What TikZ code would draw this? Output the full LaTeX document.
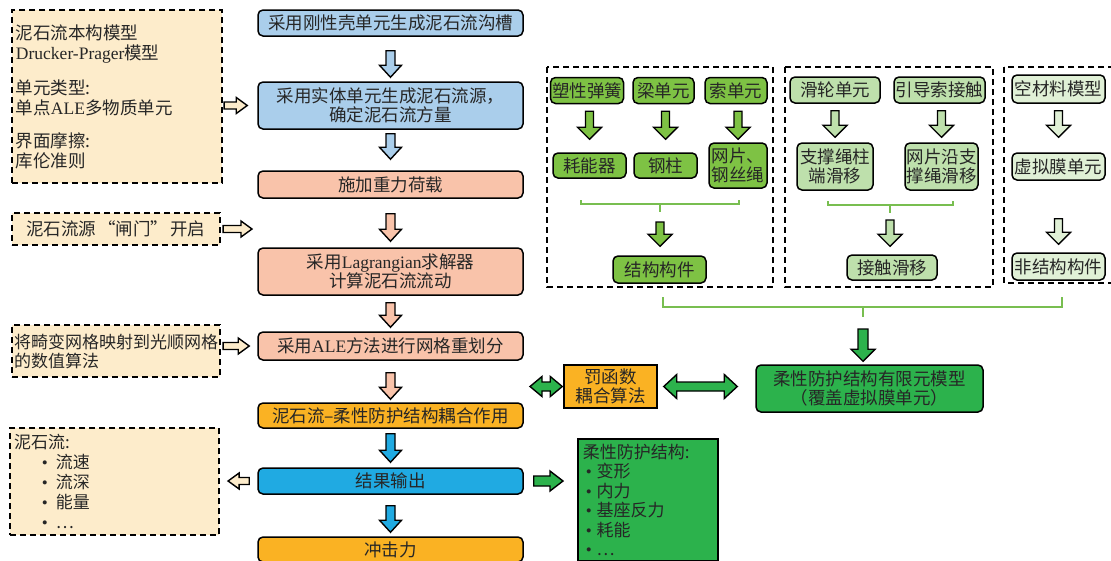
\documentclass[tikz,border=0pt]{standalone}
\usepackage{fontspec}
\setmainfont{Noto Sans CJK SC}
\newfontfamily\lat{Liberation Serif}
\usetikzlibrary{calc}

\definecolor{lblue}{RGB}{170,206,235}
\definecolor{salmon}{RGB}{249,195,170}
\definecolor{gold}{RGB}{250,178,35}
\definecolor{cyanb}{RGB}{32,170,226}
\definecolor{cream}{RGB}{253,236,203}
\definecolor{grn}{RGB}{126,194,68}
\definecolor{lgrn}{RGB}{190,224,172}
\definecolor{pgrn}{RGB}{224,240,214}
\definecolor{dgrn}{RGB}{44,178,76}
\definecolor{bgrn}{RGB}{120,190,80}

% block arrow sizes
\newcommand{\arrshaft}{4.5pt}
\newcommand{\arrhead}{11pt}
\newcommand{\arrlen}{12pt}
\newcommand{\bul}{{\lat\textbullet}}

% block arrow: fill, from, to, gap at start, gap at end
\newcommand{\blockarrow}[5]{%
  \filldraw[fill=#1, arrline]
    let \p1=($(#2)!#4!(#3)$), \p2=($(#3)!#5!(#2)$),
        \n1={atan2(\y2-\y1,\x2-\x1)} in
    ($(\p1)+(\n1+90:\arrshaft)$)
    -- ($(\p2)+(\n1+180:\arrlen)+(\n1+90:\arrshaft)$)
    -- ($(\p2)+(\n1+180:\arrlen)+(\n1+90:\arrhead)$)
    -- (\p2)
    -- ($(\p2)+(\n1+180:\arrlen)+(\n1-90:\arrhead)$)
    -- ($(\p2)+(\n1+180:\arrlen)+(\n1-90:\arrshaft)$)
    -- ($(\p1)+(\n1-90:\arrshaft)$) -- cycle;}

% double block arrow
\newcommand{\dblarrow}[5]{%
  \filldraw[fill=#1, arrline]
    let \p1=($(#2)!#4!(#3)$), \p2=($(#3)!#5!(#2)$),
        \n1={atan2(\y2-\y1,\x2-\x1)} in
    (\p1)
    -- ($(\p1)+(\n1:\arrlen)+(\n1+90:\arrhead)$)
    -- ($(\p1)+(\n1:\arrlen)+(\n1+90:\arrshaft)$)
    -- ($(\p2)+(\n1+180:\arrlen)+(\n1+90:\arrshaft)$)
    -- ($(\p2)+(\n1+180:\arrlen)+(\n1+90:\arrhead)$)
    -- (\p2)
    -- ($(\p2)+(\n1+180:\arrlen)+(\n1-90:\arrhead)$)
    -- ($(\p2)+(\n1+180:\arrlen)+(\n1-90:\arrshaft)$)
    -- ($(\p1)+(\n1:\arrlen)+(\n1-90:\arrshaft)$)
    -- ($(\p1)+(\n1:\arrlen)+(\n1-90:\arrhead)$) -- cycle;}

\tikzset{
  box/.style={draw=black, line width=1.5pt, rounded corners=5pt, align=center,
    inner sep=1pt, text=black!85},
  mainbox/.style={box, minimum width=265pt},
  gbox/.style={box, fill=grn, inner ysep=2pt},
  lgbox/.style={box, fill=lgrn, inner ysep=2pt},
  pgbox/.style={box, fill=pgrn, inner ysep=2pt},
  note/.style={draw=black, line width=2.2pt, dash pattern=on 6pt off 4pt, fill=cream,
    align=left, inner xsep=4pt, inner ysep=3pt, text=black!85},
  frame/.style={draw=black, line width=2.2pt, dash pattern=on 6pt off 4pt},
  brace/.style={draw=bgrn, line width=1.5pt},
  arrline/.style={draw=black, line width=1.4pt},
}

\begin{document}
\begin{tikzpicture}[x=1pt, y=-1pt, font=\fontsize{17.5}{19}\selectfont]

\useasboundingbox (0,0) rectangle (1111,560);

% Main column
\node[mainbox, fill=lblue, minimum height=26pt] (trench) at (390.5,23) {采用刚性壳单元生成泥石流沟槽};
\node[mainbox, fill=lblue, minimum height=47pt] (source) at (390.5,105.5) {采用实体单元生成泥石流源，\\确定泥石流方量};
\node[mainbox, fill=salmon, minimum height=27pt] (gravity) at (390.5,184.5) {施加重力荷载};
\node[mainbox, fill=salmon, minimum height=47pt] (solver) at (390.5,271.5) {采用{\lat Lagrangian}求解器\\计算泥石流流动};
\node[mainbox, fill=salmon, minimum height=28pt] (remesh) at (390.5,346) {采用{\lat ALE}方法进行网格重划分};
\node[mainbox, fill=gold, minimum height=25pt] (couple) at (390.5,415.5) {泥石流–柔性防护结构耦合作用};
\node[mainbox, fill=cyanb, minimum height=26pt] (result) at (390.5,481) {结果输出};
\node[mainbox, fill=gold, minimum height=25pt] (impact) at (390.5,549.5) {冲击力};

% Left notes
\node[note, text width=202pt, minimum height=173pt, font=\fontsize{17.5}{20}\selectfont] (model) at (117,96.5)
  {泥石流本构模型\\{\lat Drucker-Prager}模型\\[15pt]单元类型:\\单点{\lat ALE}多物质单元\\[13pt]界面摩擦:\\库伦准则};
\node[note, align=center, minimum width=208pt, minimum height=32pt] (gate) at (116,229)
  {泥石流源\hspace{2pt}“闸门”\hspace{2pt}开启};
\node[note, text width=204pt, inner xsep=2pt, minimum height=52pt, font=\fontsize{17}{19}\selectfont] (grid) at (116,351)
  {将畸变网格映射到光顺网格\\的数值算法};
\node[note, text width=201pt, minimum height=107pt, font=\fontsize{17}{20}\selectfont] (debris) at (114.5,481.5)
  {泥石流:\\\hspace*{28pt}\bul\hspace{8pt}流速\\\hspace*{28pt}\bul\hspace{8pt}流深\\\hspace*{28pt}\bul\hspace{8pt}能量\\\hspace*{28pt}\bul\hspace{8pt}…};

\coordinate (gatein) at (252,229);
\coordinate (couplein) at (530,386.5);

% Panels
\draw[frame] (547,67) rectangle (773,287);
\draw[frame] (785,67) rectangle (993,287);
\draw[frame] (1004,67) rectangle (1118,283);

\node[gbox, minimum width=73pt, minimum height=26pt] (spring) at (587,90.5) {塑性弹簧};
\node[gbox, minimum width=61pt, minimum height=26pt] (beam) at (663.5,90.5) {梁单元};
\node[gbox, minimum width=62pt, minimum height=26pt] (cable) at (736,90.5) {索单元};
\node[gbox, minimum width=73pt, minimum height=25pt] (damper) at (589.5,165.5) {耗能器};
\node[gbox, minimum width=63pt, minimum height=25pt] (column) at (665.5,165.5) {钢柱};
\node[gbox, minimum width=58pt, minimum height=45pt] (mesh) at (738,165.5) {网片、\\钢丝绳};
\node[gbox, minimum width=93pt, minimum height=27pt] (struct) at (659.5,269.5) {结构构件};

\node[lgbox, minimum width=90pt, minimum height=26pt] (pulley) at (835,90) {滑轮单元};
\node[lgbox, minimum width=91pt, minimum height=26pt] (guide) at (939.5,90) {引导索接触};
\node[lgbox, minimum width=76pt, minimum height=47pt] (slipend) at (835,166.5) {支撑绳柱\\端滑移};
\node[lgbox, minimum width=73pt, minimum height=47pt] (slipmesh) at (941.5,166.5) {网片沿支\\撑绳滑移};
\node[lgbox, minimum width=90pt, minimum height=25pt] (contact) at (892,267.5) {接触滑移};

\node[pgbox, minimum width=93pt, minimum height=28pt] (void) at (1058.5,89) {空材料模型};
\node[pgbox, minimum width=93pt, minimum height=27pt] (membrane) at (1058.5,166.5) {虚拟膜单元};
\node[pgbox, minimum width=93pt, minimum height=27pt] (nonstruct) at (1058.5,266.5) {非结构构件};

% Braces
\draw[brace] (581,200) -- (581,204) -- (739,204) -- (739,200) (660,204) -- (660,212);
\draw[brace] (828,201) -- (828,205) -- (953,205) -- (953,201) (890,205) -- (890,213);
\draw[brace] (663,297) -- (663,307) -- (1062,307) -- (1062,297) (863,307) -- (863,317);
\coordinate (brone) at (660,212);
\coordinate (brtwo) at (890,213);
\coordinate (brall) at (863,317);

% Model and outputs
\node[draw=black, line width=1.5pt, fill=gold, minimum width=93pt, minimum height=43pt, align=center, inner sep=1pt, text=black!85] (penalty) at (610.5,386.5) {罚函数\\耦合算法};
\node[box, fill=dgrn, minimum width=227pt, minimum height=47pt] (fem) at (869.5,388.5) {柔性防护结构有限元模型\\（覆盖虚拟膜单元）};
\node[draw=black, line width=1.5pt, fill=dgrn, anchor=north west, text width=130pt, inner xsep=5pt, inner ysep=5pt, align=left, text=black!85, font=\fontsize{17}{19.5}\selectfont] (fpsout) at (577,438)
  {柔性防护结构:\\\hspace*{3pt}\bul\hspace{5pt}变形\\\hspace*{3pt}\bul\hspace{5pt}内力\\\hspace*{3pt}\bul\hspace{5pt}基座反力\\\hspace*{3pt}\bul\hspace{5pt}耗能\\\hspace*{3pt}\bul\hspace{5pt}…};

% Main column arrows
\blockarrow{lblue}{trench.south}{source.north}{14pt}{4pt}
\blockarrow{lblue}{source.south}{gravity.north}{4pt}{11pt}
\blockarrow{salmon}{gravity.south}{solver.north}{15pt}{6pt}
\blockarrow{salmon}{solver.south}{remesh.north}{7pt}{4pt}
\blockarrow{salmon}{remesh.south}{couple.north}{12pt}{3pt}
\blockarrow{cyanb}{couple.south}{result.north}{5pt}{5pt}
\blockarrow{cyanb}{result.south}{impact.north}{11pt}{4pt}

% Side arrows
\renewcommand{\arrshaft}{3.5pt}
\renewcommand{\arrhead}{8pt}
\renewcommand{\arrlen}{11pt}
\blockarrow{cream}{model.east |- source.west}{source.west}{1pt}{10pt}
\blockarrow{cream}{gate.east}{gatein}{2pt}{0pt}
\blockarrow{cream}{grid.east |- remesh.west}{remesh.west}{2pt}{8pt}
\blockarrow{cream}{result.west}{debris.east |- result.west}{8pt}{8pt}

\renewcommand{\arrshaft}{5pt}
\renewcommand{\arrhead}{10pt}
\renewcommand{\arrlen}{13pt}
\blockarrow{dgrn}{result.east}{fpsout.west |- result.east}{10pt}{14pt}

% Panel arrows
\renewcommand{\arrshaft}{4pt}
\renewcommand{\arrhead}{12pt}
\renewcommand{\arrlen}{12pt}
\blockarrow{grn}{damper.north |- spring.south}{damper.north}{7pt}{13pt}
\blockarrow{grn}{column.north |- beam.south}{column.north}{7pt}{13pt}
\blockarrow{grn}{mesh.north |- cable.south}{mesh.north}{7pt}{3pt}
\blockarrow{grn}{brone}{brone |- struct.north}{10pt}{9pt}
\blockarrow{lgrn}{slipend.north |- pulley.south}{slipend.north}{7pt}{5pt}
\blockarrow{lgrn}{slipmesh.north |- guide.south}{slipmesh.north}{7pt}{5pt}
\blockarrow{lgrn}{brtwo}{brtwo |- contact.north}{7pt}{8pt}
\blockarrow{pgrn}{void.south}{membrane.north}{7pt}{15pt}
\blockarrow{pgrn}{membrane.south}{nonstruct.north}{38pt}{8pt}

% Coupling arrows
\renewcommand{\arrshaft}{5pt}
\renewcommand{\arrhead}{12pt}
\blockarrow{dgrn}{brall}{brall |- fem.north}{12pt}{3pt}
\renewcommand{\arrshaft}{4.5pt}
\renewcommand{\arrlen}{13pt}
\dblarrow{dgrn}{penalty.east}{fem.west |- penalty.east}{6pt}{18pt}
\renewcommand{\arrhead}{10pt}
\renewcommand{\arrlen}{12pt}
\dblarrow{dgrn}{penalty.west}{couplein}{1pt}{0pt}

\end{tikzpicture}
\end{document}
